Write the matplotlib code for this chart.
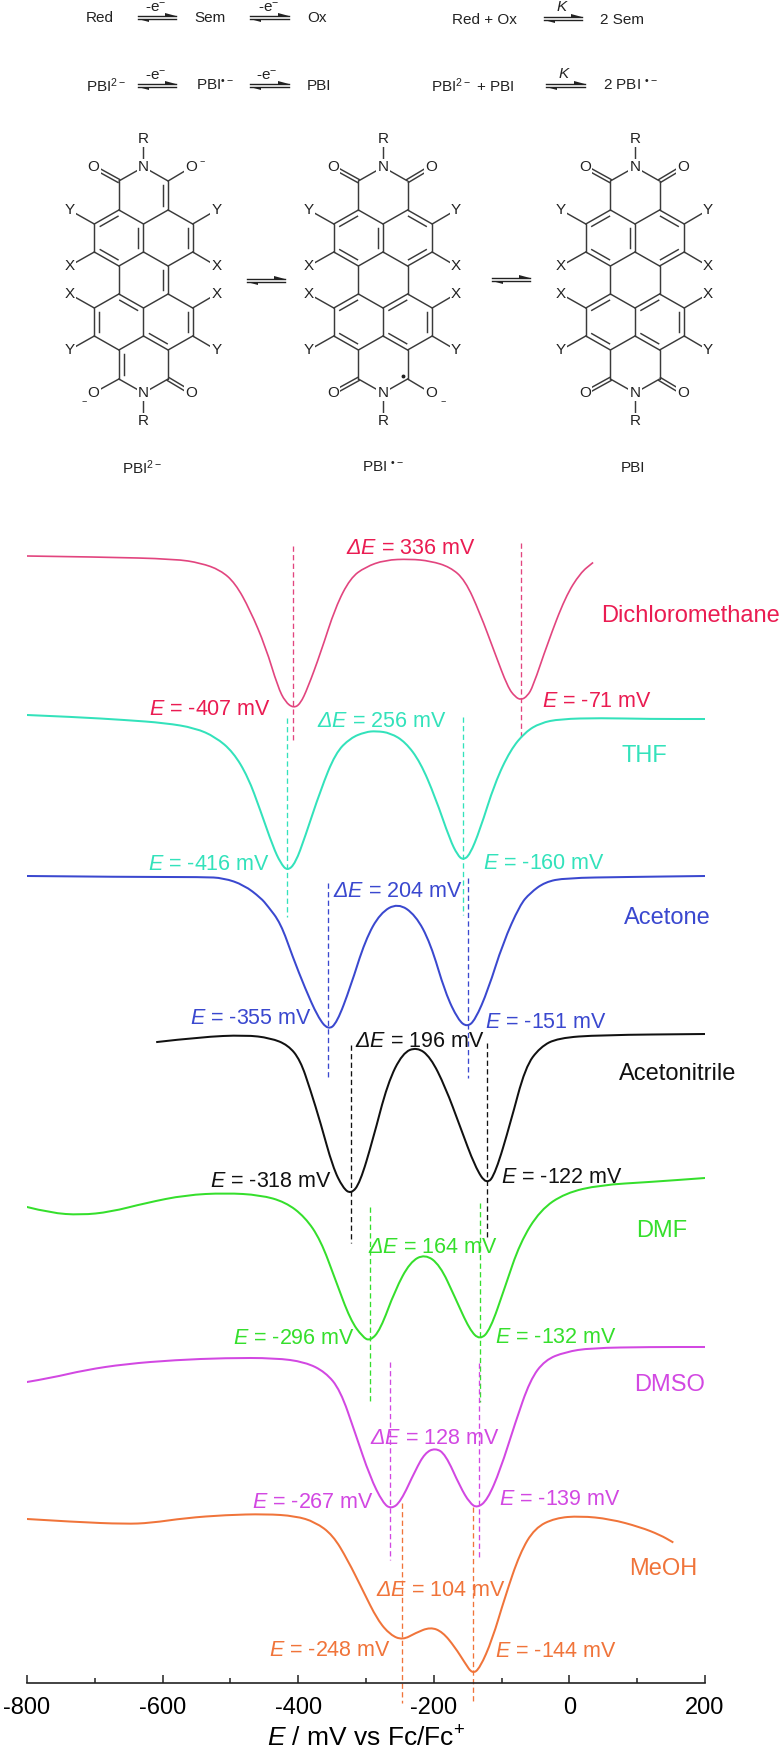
# Spectroelectrochemistry figure: PBI redox scheme on top, offset DPV curves below.
import matplotlib
matplotlib.use("Agg")
import matplotlib.pyplot as plt
from matplotlib.path import Path

plt.rcParams['font.family'] = ['Liberation Sans', 'DejaVu Sans']
plt.rcParams['mathtext.fontset'] = 'custom'
plt.rcParams['mathtext.rm'] = 'Liberation Sans'
plt.rcParams['mathtext.it'] = 'Liberation Sans:italic'
plt.rcParams['mathtext.cal'] = 'Liberation Sans:italic'
plt.rcParams['mathtext.bf'] = 'Liberation Sans:bold'
plt.rcParams['axes.unicode_minus'] = False

# Curves: potential in mV and offset signal (arbitrary units, stacked)
dcm_x = [-800, -692, -581, -544, -515, -493, -471, -448, -430, -419, -407, -397, -386, -367, -345, -323,
         -301, -272, -235, -205, -176, -154, -132, -110, -91, -80, -71, -62, -54, -32, -6, 16, 34]
dcm_y = [1127, 1126, 1124, 1120, 1113, 1100, 1073, 1036, 996, 981, 975, 979, 995, 1030, 1076, 1105,
         1116, 1123, 1124, 1122, 1116, 1103, 1070, 1030, 996, 986, 983, 987, 996, 1040, 1086, 1110, 1120]

thf_x = [-800, -729, -655, -596, -552, -522, -496, -474, -456, -437, -426, -416, -404, -390, -367, -345, -323, -301,
         -285, -264, -242, -220, -198, -176, -165, -157, -147, -132, -110, -87, -65, -43, -14, 45, 119, 200]
thf_y = [968, 966, 963, 960, 955, 946, 931, 906, 873, 836, 820, 812, 820, 846, 893, 930, 945, 951,
         952, 950, 941, 921, 886, 843, 828, 823, 828, 853, 900, 933, 951, 960, 964, 965, 964, 964]

ace_x = [-800, -650, -540, -510, -480, -455, -445, -426, -408, -390, -371, -356, -343, -323, -301, -279,
         -253, -227, -205, -183, -164, -151, -139, -120, -98, -73, -58, -36, -6, 82, 200]
ace_y = [807, 806, 806, 805, 798, 785, 777, 760, 726, 695, 666, 653, 660, 696, 743, 770,
         780, 768, 740, 690, 663, 656, 663, 693, 740, 778, 790, 801, 805, 806, 807]

acn_x = [-608, -544, -478, -441, -415, -397, -382, -367, -349, -334, -322, -309, -290, -268, -246,
         -225, -205, -183, -161, -139, -122, -109, -87, -65, -43, -17, 45, 200]
acn_y = [641, 646, 648, 645, 638, 623, 593, 560, 516, 495, 489, 500, 543, 600, 630,
         636, 626, 596, 556, 516, 498, 510, 560, 616, 636, 645, 648, 649]

dmf_x = [-800, -765, -721, -677, -625, -566, -507, -456, -419, -390, -367, -345, -323, -305, -294, -279, -257,
         -235, -213, -191, -169, -147, -132, -117, -95, -73, -43, -6, 45, 119, 200]
dmf_y = [476, 470, 468, 471, 480, 488, 490, 488, 481, 466, 443, 403, 363, 346, 342, 353, 393,
         421, 429, 418, 386, 353, 343, 353, 396, 440, 473, 490, 498, 501, 505]

dmso_x = [-800, -765, -714, -655, -581, -507, -434, -390, -360, -338, -316, -294, -275, -263, -249, -227,
          -213, -198, -183, -161, -147, -136, -121, -102, -80, -58, -36, -6, 31, 119, 200]
dmso_y = [301, 305, 313, 319, 323, 325, 325, 321, 311, 293, 250, 206, 180, 174, 181, 213,
          230, 235, 229, 196, 180, 175, 183, 213, 260, 303, 323, 331, 335, 336, 336]

meoh_x = [-800, -729, -655, -618, -566, -507, -448, -404, -375, -349, -327, -305, -283, -264, -246, -227,
          -205, -187, -169, -154, -143, -132, -114, -95, -73, -51, -21, 16, 60, 104, 134, 152]
meoh_y = [164, 161, 159, 160, 165, 168, 169, 167, 161, 148, 123, 93, 63, 48, 43, 50,
          56, 51, 36, 20, 9, 15, 43, 86, 130, 155, 165, 167, 164, 156, 148, 141]

# Peak potentials (mV) and splittings as printed
dcm_peaks, dcm_delta = [-407, -71], 336
thf_peaks, thf_delta = [-416, -160], 256
ace_peaks, ace_delta = [-355, -151], 204
acn_peaks, acn_delta = [-318, -122], 196
dmf_peaks, dmf_delta = [-296, -132], 164
dmso_peaks, dmso_delta = [-267, -139], 128
meoh_peaks, meoh_delta = [-248, -144], 104

# Where the dashed guides really sit
dcm_guides = [-407, -71]
thf_guides = [-417, -157]
ace_guides = [-356, -150]
acn_guides = [-322, -122]
dmf_guides = [-294, -132]
dmso_guides = [-264, -134]
meoh_guides = [-247, -142]

x_ticks = [-800, -600, -400, -200, 0, 200]
x_minor = [-700, -500, -300, -100, 100]

DCM_LINE, DCM_TEXT = '#e2457f', '#ea1c52'
THF = '#33e2bb'
ACE = '#3a48cf'
ACN = '#111111'
DMF = '#35df2c'
DMSO = '#d248e2'
MEOH = '#f0743a'
INK = '#3a3a3a'

W, H = 784, 1755
fig = plt.figure(figsize=(W / 100, H / 100), dpi=100)

# Pixel-space axes for the scheme and the molecules
sk = fig.add_axes([0, 0, 1, 1])
sk.set_xlim(0, W)
sk.set_ylim(H, 0)
sk.axis('off')


def label(x, y, s, size=11, ha='left', bg=False):
	kw = {}
	if bg:
		kw['bbox'] = dict(facecolor='white', edgecolor='none', pad=0.8)
	sk.text(x, y, s, fontsize=size, ha=ha, va='center', color='#222222', zorder=5, **kw)


def eq_arrow(x0, x1, y):
	"""Two half-headed equilibrium arrows."""
	sk.plot([x0, x1], [y - 1.5, y - 1.5], color='#222222', lw=1)
	sk.plot([x0, x1], [y + 1.5, y + 1.5], color='#222222', lw=1)
	sk.fill([x1, x1 - 11, x1 - 11], [y - 1.5, y - 1.5, y - 4.5], color='#222222', lw=0)
	sk.fill([x0, x0 + 11, x0 + 11], [y + 1.5, y + 1.5, y + 4.5], color='#222222', lw=0)


# Reaction scheme
for x, y, s in [(86, 18, 'Red'), (194, 18, 'Sem'), (307, 18, 'Ox'), (452, 20, 'Red + Ox'), (600, 20, '2 Sem'),
                (86, 86, 'PBI$^{2-}$'), (196, 86, 'PBI$^{\u2022-}$'), (307, 86, 'PBI'),
                (431, 86, 'PBI$^{2-}$ + PBI'), (603, 86, '2 PBI $^{\u2022-}$')]:
	label(x, y, s)
for x0, x1, y in [(138, 176, 17), (250, 289, 17), (544, 582, 18), (138, 176, 85), (250, 289, 85), (546, 585, 85)]:
	eq_arrow(x0, x1, y)
for x, y, s in [(156, 8, '-e$^{-}$'), (269, 8, '-e$^{-}$'), (156, 76, '-e$^{-}$'), (267, 76, '-e$^{-}$'),
                (562, 7, '$K$'), (564, 74, '$K$')]:
	label(x, y, s, ha='center')

# Molecule skeleton, offsets from the molecule centre in px
c1, c2 = 24.6, 49.2
atoms = {
	'N': (0, -113), 'C1': (-c1, -99), 'C2': (c1, -99), 'C3': (-c1, -70), 'C4': (c1, -70),
	'C5': (-c2, -56), 'C6': (c2, -56), 'C7': (-c2, -28), 'C8': (c2, -28), 'C9': (-c1, -14), 'C10': (c1, -14),
	'C11': (0, -56), 'C12': (0, -28), 'C13': (-c1, 14), 'C14': (c1, 14), 'C15': (-c2, 28), 'C16': (c2, 28),
	'C17': (-c2, 56), 'C18': (c2, 56), 'C19': (-c1, 70), 'C20': (c1, 70), 'C21': (0, 28), 'C22': (0, 56),
	'C23': (-c1, 99), 'C24': (c1, 99), 'N2': (0, 113),
	'R': (0, -141), 'R2': (0, 141), 'O1': (-50, -113), 'O2': (48, -113), 'O3': (-50, 113), 'O4': (48, 113),
	'Y1': (-74, -70), 'Y2': (73, -70), 'X1': (-74, -14), 'X2': (73, -14),
	'X3': (-74, 14), 'X4': (73, 14), 'Y3': (-74, 70), 'Y4': (73, 70),
}
frame = [('N', 'C1'), ('N', 'C2'), ('C1', 'C3'), ('C2', 'C4'), ('C3', 'C5'), ('C5', 'C7'), ('C7', 'C9'),
         ('C9', 'C12'), ('C12', 'C11'), ('C11', 'C3'), ('C11', 'C4'), ('C4', 'C6'), ('C6', 'C8'), ('C8', 'C10'),
         ('C10', 'C12'), ('C9', 'C13'), ('C10', 'C14'), ('C13', 'C21'), ('C14', 'C21'), ('C13', 'C15'),
         ('C15', 'C17'), ('C17', 'C19'), ('C19', 'C22'), ('C21', 'C22'), ('C14', 'C16'), ('C16', 'C18'),
         ('C18', 'C20'), ('C20', 'C22'), ('C19', 'C23'), ('C20', 'C24'), ('C23', 'N2'), ('C24', 'N2'),
         ('N', 'R'), ('N2', 'R2'), ('C5', 'Y1'), ('C6', 'Y2'), ('C7', 'X1'), ('C8', 'X2'),
         ('C15', 'X3'), ('C16', 'X4'), ('C17', 'Y3'), ('C18', 'Y4'),
         ('C1', 'O1'), ('C2', 'O2'), ('C23', 'O3'), ('C24', 'O4')]
neutral_top = [('C3', 'C5'), ('C7', 'C9'), ('C11', 'C12'), ('C4', 'C6'), ('C8', 'C10')]
neutral_bottom = [('C13', 'C15'), ('C17', 'C19'), ('C14', 'C21'), ('C20', 'C22'), ('C16', 'C18')]
dianion_rings = [('C3', 'C5'), ('C7', 'C9'), ('C11', 'C12'), ('C6', 'C8'), ('C2', 'C4'), ('C10', 'C14'),
                 ('C13', 'C21'), ('C15', 'C17'), ('C16', 'C18'), ('C20', 'C22'), ('C19', 'C23')]
ring_centres = [(-c1, -42), (c1, -42), (-c1, 42), (c1, 42), (0, -85), (0, 85)]


def molecule(cx, cy, ring_doubles, carbonyls, oxides, radical=False):
	for a, b in frame:
		(xa, ya), (xb, yb) = atoms[a], atoms[b]
		if b in carbonyls:
			# carbonyl: two parallel strokes
			dx, dy = xb - xa, yb - ya
			n = (dx * dx + dy * dy) ** 0.5
			ox, oy = -dy / n * 1.7, dx / n * 1.7
			for s in (-1, 1):
				sk.plot([cx + xa + s * ox, cx + xb + s * ox], [cy + ya + s * oy, cy + yb + s * oy],
				        color=INK, lw=1.05, zorder=2)
		else:
			sk.plot([cx + xa, cx + xb], [cy + ya, cy + yb], color=INK, lw=1.05, zorder=2, solid_capstyle='round')
	for a, b in ring_doubles:
		(xa, ya), (xb, yb) = atoms[a], atoms[b]
		mx, my = (xa + xb) / 2, (ya + yb) / 2
		rc = min(ring_centres, key=lambda c: (c[0] - mx) ** 2 + (c[1] - my) ** 2)
		if (a, b) == ('C11', 'C12'):
			rc = (-c1, -42)
		if (a, b) == ('C10', 'C14'):
			rc = (0, 0)
		ox, oy = rc[0] - mx, rc[1] - my
		n = (ox * ox + oy * oy) ** 0.5
		ox, oy = ox / n * 5, oy / n * 5
		# inner stroke, shortened at both ends
		sx0, sy0 = xa + (xb - xa) * 0.14 + ox, ya + (yb - ya) * 0.14 + oy
		sx1, sy1 = xb - (xb - xa) * 0.14 + ox, yb - (yb - ya) * 0.14 + oy
		sk.plot([cx + sx0, cx + sx1], [cy + sy0, cy + sy1], color=INK, lw=1.05, zorder=2)
	for name in ['N', 'N2', 'R', 'R2', 'O1', 'O2', 'O3', 'O4', 'Y1', 'Y2', 'X1', 'X2', 'X3', 'X4', 'Y3', 'Y4']:
		x, y = atoms[name]
		label(cx + x, cy + y, name[0], size=11, ha='center', bg=True)
	for name in oxides:
		x, y = atoms[name]
		if y < 0:
			label(cx + x + 11, cy + y - 6, '\u2212', size=6.5, ha='center')
		else:
			label(cx + x + (12 if x > 0 else -9), cy + y + 8, '\u2212', size=6.5, ha='center')
	if radical:
		sk.plot([cx + c1 - 5], [cy + 96], 'o', color='#222222', ms=1.8, zorder=3)


molecule(143.5, 280, dianion_rings, ['O1', 'O4'], ['O2', 'O3'])
molecule(383, 280, neutral_top + neutral_bottom, ['O1', 'O2', 'O3'], ['O4'], radical=True)
molecule(635, 280, neutral_top + neutral_bottom, ['O1', 'O2', 'O3', 'O4'], [])
eq_arrow(247, 285, 280)
eq_arrow(492, 530, 279)
label(142, 468, 'PBI$^{2-}$', ha='center')
label(383, 468, 'PBI $^{\u2022-}$', ha='center')
label(633, 468, 'PBI', ha='center')

# Stacked curves share one potential axis
ax = fig.add_axes([27 / W, (H - 1683) / H, 678 / W, (1683 - 493) / H])
ax.patch.set_alpha(0)
ax.set_xlim(-800, 200)
ax.set_ylim(0, 1190)


def rounded(x, y):
	"""Round off the corners of a read curve with quadratic segments between midpoints."""
	verts = [(x[0], y[0])]
	codes = [Path.MOVETO]
	for i in range(1, len(x) - 1):
		verts += [(x[i], y[i]), ((x[i] + x[i + 1]) / 2, (y[i] + y[i + 1]) / 2)]
		codes += [Path.CURVE3, Path.CURVE3]
	verts.append((x[-1], y[-1]))
	codes.append(Path.LINETO)
	return Path(verts, codes).to_polygons(closed_only=False)[0]


def series(x, y, colour, lw, peaks, guides, delta, spans, peak_xy, delta_xy, text_colour=None):
	tc = text_colour or colour
	pts = rounded(x, y)
	ax.plot(pts[:, 0], pts[:, 1], color=colour, lw=lw, solid_joinstyle='round', zorder=3)
	for g, (y0, y1) in zip(guides, spans):
		ax.plot([g, g], [y0, y1], color=colour, lw=0.95, dashes=(4, 2.5), clip_on=False, zorder=2)
	for p, (tx, ty) in zip(peaks, peak_xy):
		ax.text(tx, ty, f'$E$ = {p} mV', color=tc, fontsize=15.5, zorder=4)
	ax.text(delta_xy[0], delta_xy[1], f'$\\mathcal{{\\Delta}}\\mathit{{E}}$ = {delta} mV',
	        color=tc, fontsize=15.5, zorder=4)


series(dcm_x, dcm_y, DCM_LINE, 1.2, dcm_peaks, dcm_guides, dcm_delta, [(1137, 940), (1140, 945)],
       [(-620, 968), (-41, 976)], (-329, 1129), DCM_TEXT)
series(thf_x, thf_y, THF, 1.45, thf_peaks, thf_guides, thf_delta, [(965, 766), (966, 768)],
       [(-622, 813), (-128, 814)], (-373, 956))
series(ace_x, ace_y, ACE, 1.45, ace_peaks, ace_guides, ace_delta, [(800, 603), (805, 605)],
       [(-560, 659), (-124, 655)], (-349, 786))
series(acn_x, acn_y, ACN, 1.45, acn_peaks, acn_guides, acn_delta, [(638, 440), (640, 443)],
       [(-530, 496), (-101, 500)], (-316, 636))
series(dmf_x, dmf_y, DMF, 1.45, dmf_peaks, dmf_guides, dmf_delta, [(476, 279), (480, 281)],
       [(-496, 339), (-110, 340)], (-297, 430))
series(dmso_x, dmso_y, DMSO, 1.45, dmso_peaks, dmso_guides, dmso_delta, [(321, 123), (320, 125)],
       [(-468, 175), (-104, 178)], (-294, 239))
series(meoh_x, meoh_y, MEOH, 1.45, meoh_peaks, meoh_guides, meoh_delta, [(180, -20), (176, -20)],
       [(-443, 27), (-110, 26)], (-285, 87))

# Solvent names
for tx, ty, name, c in [(47, 1061, 'Dichloromethane', DCM_TEXT), (77, 921, 'THF', THF), (81, 759, 'Acetone', ACE),
                        (73, 603, 'Acetonitrile', ACN), (98, 446, 'DMF', DMF), (95, 292, 'DMSO', DMSO),
                        (88, 108, 'MeOH', MEOH)]:
	ax.text(tx, ty, name, color=c, fontsize=17, zorder=4)

# Only the bottom axis is shown
for side in ['left', 'right', 'top']:
	ax.spines[side].set_visible(False)
ax.spines['bottom'].set_color('#222222')
ax.spines['bottom'].set_linewidth(1.2)
ax.set_yticks([])
ax.set_xticks(x_ticks)
ax.set_xticks(x_minor, minor=True)
ax.tick_params(axis='x', which='major', direction='in', length=6, width=1.1, labelsize=17, pad=10, color='#222222')
ax.tick_params(axis='x', which='minor', direction='in', length=3.5, width=1.1, color='#222222')
ax.set_xlabel('$E$ / mV vs Fc/Fc$^{+}$', fontsize=19, labelpad=5)

fig.savefig('out.png', dpi=100)
